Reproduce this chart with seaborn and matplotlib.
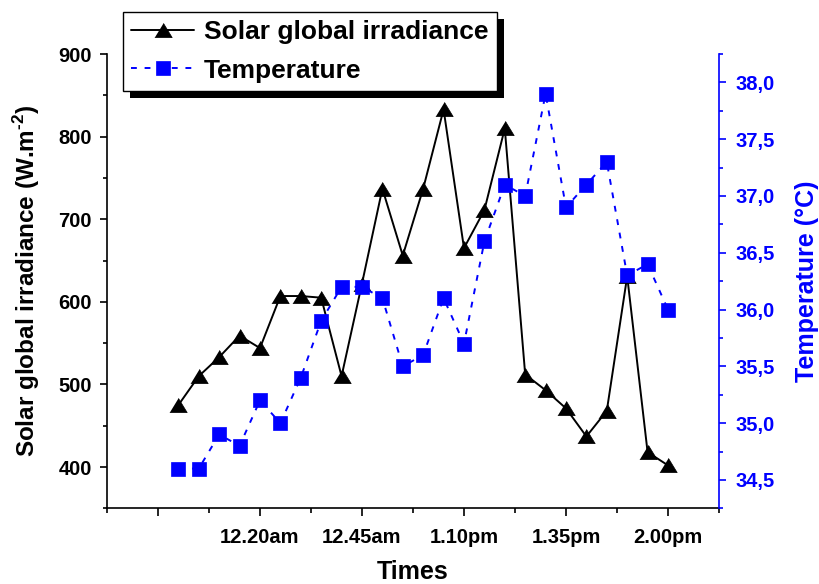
import numpy as np
import pandas as pd
import matplotlib
matplotlib.use("Agg")
import matplotlib.pyplot as plt
import matplotlib.patheffects as pe
from matplotlib.ticker import AutoMinorLocator, FuncFormatter
import seaborn as sns

# minutes after 12:00, one reading every 5 min
minutes = [0, 5, 10, 15, 20, 25, 30, 35, 40, 45, 50, 55, 60,
           65, 70, 75, 80, 85, 90, 95, 100, 105, 110, 115, 120]
irradiance = [475, 510, 533, 559, 544, 607, 607, 605, 510, 622, 737, 656, 737,
              833, 665, 711, 810, 512, 493, 471, 437, 468, 631, 418, 402]
temperature = [34.6, 34.6, 34.9, 34.8, 35.2, 35.0, 35.4, 35.9, 36.2, 36.2, 36.1, 35.5, 35.6,
               36.1, 35.7, 36.6, 37.1, 37.0, 37.9, 36.9, 37.1, 37.3, 36.3, 36.4, 36.0]

time_ticks = [-5, 20, 45, 70, 95, 120]
time_labels = ["", "12.20am", "12.45am", "1.10pm", "1.35pm", "2.00pm"]
irr_ticks = [400, 500, 600, 700, 800, 900]
temp_ticks = [34.5, 35.0, 35.5, 36.0, 36.5, 37.0, 37.5, 38.0]

df = pd.DataFrame({"minutes": minutes, "irradiance": irradiance, "temperature": temperature})

sns.set_theme(style="ticks")
plt.rcParams["font.family"] = ["Liberation Sans", "DejaVu Sans"]
plt.rcParams["font.weight"] = "bold"
plt.rcParams["axes.labelweight"] = "bold"
plt.rcParams["text.color"] = "black"
plt.rcParams["axes.labelcolor"] = "black"
plt.rcParams["xtick.color"] = "black"
plt.rcParams["ytick.color"] = "black"
plt.rcParams["axes.edgecolor"] = "black"
plt.rcParams["mathtext.fontset"] = "custom"
plt.rcParams["mathtext.rm"] = "Liberation Sans:bold"
plt.rcParams["mathtext.bf"] = "Liberation Sans:bold"

fig = plt.figure(figsize=(8.19, 5.84), dpi=100)
ax = fig.add_axes([0.1306, 0.1296, 0.7473, 0.7779])
ax2 = ax.twinx()

tri = [(-1, -0.82), (1, -0.82), (0, 0.82)]
sns.lineplot(data=df, x="minutes", y="irradiance", ax=ax, color="black", lw=1.4,
             marker=tri, ms=12.5, mec="black", mew=0.5)
sns.lineplot(data=df, x="minutes", y="temperature", ax=ax2, color="#0000ff", lw=1.4,
             linestyle=(0, (3, 4)), marker="s", ms=9.6, mec="#0000ff", mew=0.5)

ax.set_xlim(-17.5, 132.5)
ax.set_ylim(350, 900)
ax2.set_ylim(34.25, 38.25)

ax.set_xticks(time_ticks, time_labels)
ax.set_yticks(irr_ticks)
ax2.set_yticks(temp_ticks)
ax2.yaxis.set_major_formatter(FuncFormatter(lambda v, p: f"{v:.1f}".replace(".", ",")))
for a in (ax.xaxis, ax.yaxis, ax2.yaxis):
    a.set_minor_locator(AutoMinorLocator(2))

for s in ("top", "right"):
    ax.spines[s].set_visible(False)
for s in ("top", "left", "bottom"):
    ax2.spines[s].set_visible(False)
ax.spines["left"].set_linewidth(1.2)
ax.spines["bottom"].set_linewidth(1.2)
ax2.spines["right"].set_linewidth(1.2)
ax2.spines["right"].set_color("#0000ff")

ax.tick_params(axis="x", which="major", length=6, width=1.2, pad=8, labelsize=14.5, color="black")
ax.tick_params(axis="x", which="minor", length=3.5, width=1.2, color="black")
ax.tick_params(axis="y", which="major", length=5, width=1.2, pad=6, labelsize=14.5, color="black")
ax.tick_params(axis="y", which="minor", length=3, width=1.2, color="black")
ax2.tick_params(axis="y", which="major", length=5, width=1.2, pad=7, labelsize=14.5,
                color="#0000ff", labelcolor="#0000ff")
ax2.tick_params(axis="y", which="minor", length=3, width=1.2, color="#0000ff")

ax.set_xlabel("Times", fontsize=18)
ax.set_ylabel("Solar global irradiance (W.m$^{\\text{-2}}$)", fontsize=17.5)
ax2.set_ylabel("Temperature (°C)", fontsize=18, color="#0000ff")
ax.xaxis.set_label_coords(0.5, -0.114)
ax.yaxis.set_label_coords(-0.106, 0.5)
ax2.yaxis.set_label_coords(1.124, 0.5)

handles = [ax.lines[0], ax2.lines[0]]
leg = fig.legend(handles, ["Solar global irradiance", "Temperature"],
                 loc="upper left", bbox_to_anchor=(0.1498, 0.98), borderaxespad=0,
                 frameon=True, fancybox=False, edgecolor="black", framealpha=1,
                 handlelength=2.4, handletextpad=0.37, borderpad=0.32, labelspacing=0.55,
                 fontsize=19)
frame = leg.get_frame()
frame.set_linewidth(1.0)
frame.set_path_effects([pe.SimplePatchShadow(offset=(5, -5), shadow_rgbFace="black", alpha=1),
                        pe.Normal()])

fig.savefig("out.png", dpi=100)
